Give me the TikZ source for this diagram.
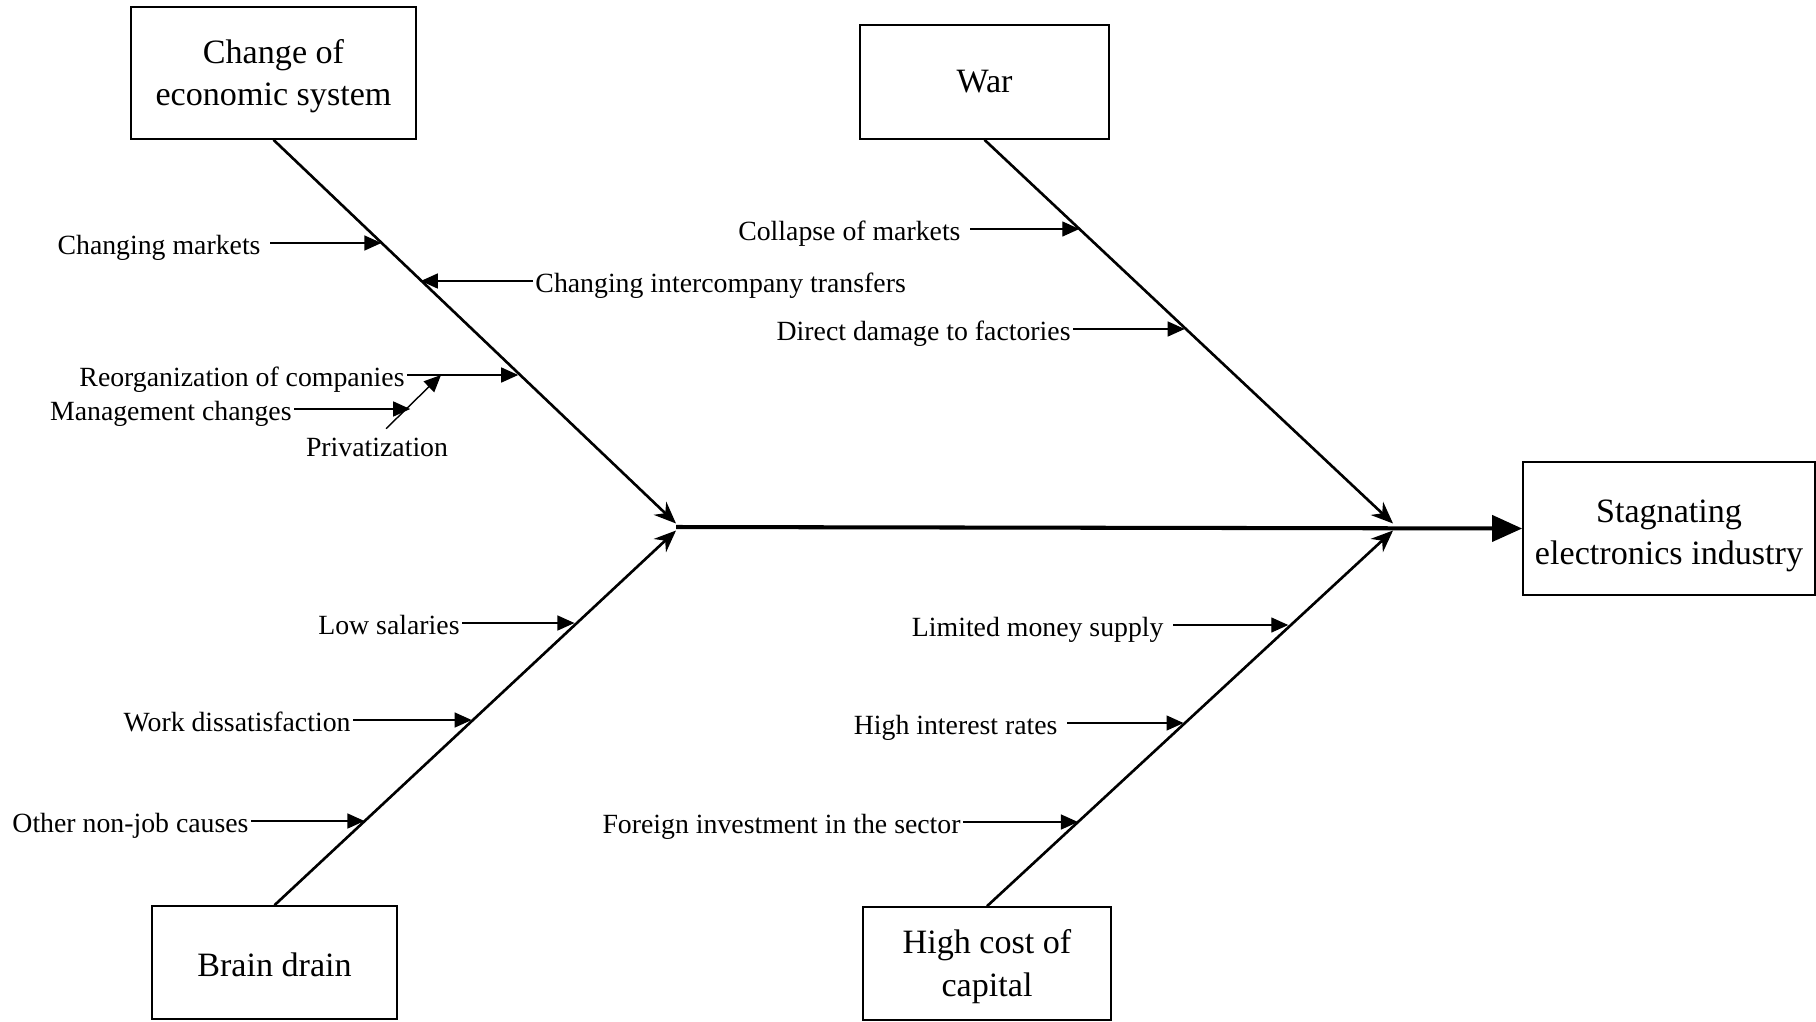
\documentclass[tikz,border=0pt]{standalone}
\usepackage{fontspec}
\setmainfont{Liberation Serif}
\usetikzlibrary{positioning, arrows.meta, calc}

% invisible strut that lowers the text of a box a little
\newcommand{\toplift}[1]{\rule{0pt}{#1}}

\begin{document}
\begin{tikzpicture}[
      x=0.01cm, y=-0.01cm,
      causebox/.style={
        rectangle,
        draw,
        line width=0.45pt,
        align=center,
        font=\fontsize{9.7}{11.7}\selectfont,
      },
      subcause/.style={
        inner sep=0.5pt,
        text height=0.85em,
        text depth=0.22em,
        font=\fontsize{7.9}{9.5}\selectfont,
      },
      spaced/.style={inner xsep=2.5pt},
      bone/.style={line width=0.75pt, -{Stealth[length=0.22cm, width=0.18cm]}},
      spine/.style={line width=1.15pt, -{Triangle[length=0.3cm, width=0.26cm]}},
      feed/.style={line width=0.4pt, -{Triangle[length=0.17cm, width=0.15cm]}},
    ]
      \useasboundingbox (0,0) rectangle (1816,1021);

      % main cause boxes and effect
      \node[causebox, minimum width=2.85cm, minimum height=1.32cm] (econ) at (273.5,73) {\toplift{8.6pt}Change of\\economic system};
      \node[causebox, minimum width=2.49cm, minimum height=1.14cm] (war) at (984.5,82) {War};
      \node[causebox, minimum width=2.45cm, minimum height=1.13cm] (brain) at (274.5,962.5) {\toplift{8pt}Brain drain};
      \node[causebox, minimum width=2.48cm, minimum height=1.13cm] (capital) at (987,963.5) {\toplift{8.8pt}High cost of\\[0.6pt]capital};
      \node[causebox, minimum width=2.92cm, minimum height=1.33cm] (stag) at (1669,528.5) {\toplift{10.6pt}Stagnating\\electronics industry};

      % junctions on the spine
      \coordinate (jl) at (676,527);
      \coordinate (jr) at (1393,527);

      % bones and spine
      \draw[bone] (econ.south) -- ([yshift=1pt]jl);
      \draw[bone] (brain.north) -- ([yshift=-1pt]jl);
      \draw[bone] (war.south) -- ([yshift=1pt]jr);
      \draw[bone] (capital.north) -- ([yshift=-1pt]jr);
      \draw[spine] (jl) -- (stag.west);

      % points on the bones
      \coordinate (e1) at ($(econ.south)!0.268!(jl)$);
      \coordinate (e2) at ($(econ.south)!0.366!(jl)$);
      \coordinate (e3) at ($(econ.south)!0.608!(jl)$);
      \coordinate (w1) at ($(war.south)!0.232!(jr)$);
      \coordinate (w2) at ($(war.south)!0.490!(jr)$);
      \coordinate (b1) at ($(brain.north)!0.747!(jl)$);
      \coordinate (b2) at ($(brain.north)!0.491!(jl)$);
      \coordinate (b3) at ($(brain.north)!0.224!(jl)$);
      \coordinate (c1) at ($(capital.north)!0.742!(jr)$);
      \coordinate (c2) at ($(capital.north)!0.484!(jr)$);
      \coordinate (c3) at ($(capital.north)!0.224!(jr)$);

      % change of economic system
      \node[subcause, spaced, anchor=east] (mkt) at (270,243) {Changing markets};
      \node[subcause, anchor=west] (trans) at (533,281) {Changing intercompany transfers};
      \node[subcause, anchor=east] (reorg) at (407,375) {Reorganization of companies};
      \node[subcause, anchor=east] (mgmt) at (294,409) {Management changes};
      \node[subcause] (priv) at (377,445) {Privatization};
      \draw[feed] (mkt.east) -- (mkt.east -| e1);
      \draw[feed] (trans.west) -- (trans.west -| e2);
      \draw[feed] (reorg.east) -- (reorg.east -| e3);
      \coordinate (pvtip) at ($(reorg.east)+(34,0)$);
      \coordinate (pvfoot) at ($(priv.north)+(9,5)$);
      \coordinate (pvm) at ($(pvfoot)!0.44!(pvtip)$);
      \draw[feed] (pvfoot) -- (pvtip);
      \draw[feed] (mgmt.east) -- (mgmt.east -| pvm);

      % war
      \node[subcause, spaced, anchor=east] (coll) at (970,229) {Collapse of markets};
      \node[subcause, anchor=east] (dmg) at (1073,329) {Direct damage to factories};
      \draw[feed] (coll.east) -- (coll.east -| w1);
      \draw[feed] (dmg.east) -- (dmg.east -| w2);

      % brain drain
      \node[subcause, anchor=east] (sal) at (462,623) {Low salaries};
      \node[subcause, anchor=east] (dis) at (353,720) {Work dissatisfaction};
      \node[subcause, anchor=east] (oth) at (251,821) {Other non-job causes};
      \draw[feed] (sal.east) -- (sal.east -| b1);
      \draw[feed] (dis.east) -- (dis.east -| b2);
      \draw[feed] (oth.east) -- (oth.east -| b3);

      % high cost of capital
      \node[subcause, spaced, anchor=east] (money) at (1173,625) {Limited money supply};
      \node[subcause, spaced, anchor=east] (rate) at (1067,723) {High interest rates};
      \node[subcause, anchor=east] (fdi) at (963,822) {Foreign investment in the sector};
      \draw[feed] (money.east) -- (money.east -| c1);
      \draw[feed] (rate.east) -- (rate.east -| c2);
      \draw[feed] (fdi.east) -- (fdi.east -| c3);
    \end{tikzpicture}
\end{document}
